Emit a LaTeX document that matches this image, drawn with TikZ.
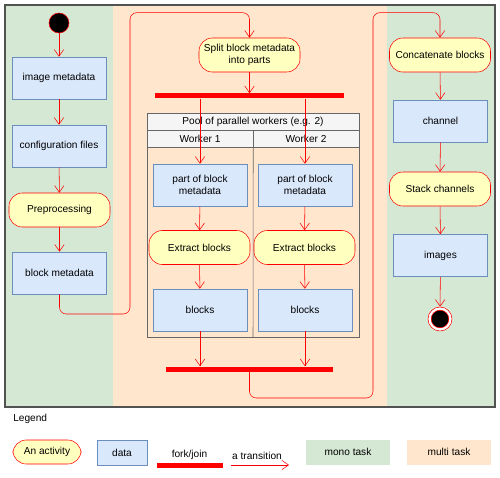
\documentclass[tikz,border=0pt]{standalone}
\usepackage{fontspec}
\setmainfont{Liberation Sans}
\usepackage{tikz}
\usetikzlibrary{arrows.meta,calc}
\definecolor{lane-green}{HTML}{D5E8D4}
\definecolor{lane-orange}{HTML}{FFE6CC}
\definecolor{data-fill}{HTML}{DAE8FC}
\definecolor{data-line}{HTML}{6C8EBF}
\definecolor{act-fill}{HTML}{FFFFC0}
\definecolor{pool-fill}{HTML}{F5F5F5}
\definecolor{pool-line}{HTML}{666666}

\begin{document}
\begin{tikzpicture}[x=0.75pt, y=-0.75pt,
    every node/.style={font=\fontsize{7.6}{9.4}\selectfont, inner sep=0pt},
    data/.style={rectangle, fill=data-fill, draw=data-line, minimum width=94*0.75pt, minimum height=42*0.75pt},
    activity/.style={rectangle, rounded corners=10pt, fill=act-fill, draw=red, minimum width=101*0.75pt, minimum height=34*0.75pt, align=center},
    bar/.style={rectangle, fill=red, minimum height=5*0.75pt},
    trans/.style={draw=red, -{Straight Barb[length=5pt, width=7pt]}},
    head/.style={rectangle, fill=pool-fill, draw=pool-line, minimum height=17*0.75pt}]
    \useasboundingbox (0,0) rectangle (500,478);
    % lanes
    \fill[lane-green] (5,5) rectangle (113,407);
    \fill[lane-orange] (113,5) rectangle (387,407);
    \fill[lane-green] (387,5) rectangle (495,407);
    \draw[pool-line!80!black, line width=1.2pt] (5,5) rectangle (495,407);

    % left lane
    \node[circle, fill=black, draw=red, minimum size=20*0.75pt] (start) at (59,23) {};
    \node[data] (imgmeta) at (59,78) {image metadata};
    \node[data] (config) at (59,146) {configuration files};
    \node[activity] (preproc) at (59.5,210) {Preprocessing};
    \node[data] (blockmeta) at (59.5,273) {block metadata};

    % middle lane
    \node[activity] (split) at (249.5,55) {Split block metadata\\into parts};
    \node[bar, minimum width=189*0.75pt] (fork) at (249.5,96) {};
    \draw[pool-line] (147,113) rectangle (359,337);
    \node[head, minimum width=212*0.75pt] (pool) at (253,121.5) {Pool of parallel workers (e.g. 2)};
    \node[head, minimum width=106*0.75pt] (worker1) at (200,138.5) {Worker 1};
    \node[head, minimum width=106*0.75pt] (worker2) at (306,138.5) {Worker 2};
    \draw[pool-line] (worker1.south east) -- (253,337);
    \node[data, align=center] (part1) at (200,185) {part of block\\metadata};
    \node[data, align=center] (part2) at (305,185) {part of block\\metadata};
    \node[activity] (extract1) at (199.5,247.5) {Extract blocks};
    \node[activity] (extract2) at (304.5,247.5) {Extract blocks};
    \node[data] (blocks1) at (200,310) {blocks};
    \node[data] (blocks2) at (305,310) {blocks};
    \node[bar, minimum width=167*0.75pt] (join) at (249.5,369) {};

    % right lane
    \node[activity] (concat) at (440,55) {Concatenate blocks};
    \node[data] (channel) at (440.5,121) {channel};
    \node[activity] (stack) at (440,189) {Stack channels};
    \node[data] (images) at (440.5,255.5) {images};
    \node[circle, fill=white, draw=red, minimum size=24*0.75pt,
        path picture={\fill[black, draw=red] (path picture bounding box.center) circle (6.6pt);}] (end) at (440,319) {};

    % transitions
    \draw[trans] (start) -- (imgmeta);
    \draw[trans] (imgmeta) -- (config);
    \draw[trans] (config) -- (preproc);
    \draw[trans] (preproc) -- (blockmeta);
    \draw[trans, rounded corners=5pt] (blockmeta.south) |- (130,314) |- ($(split.north)+(0,-25)$) -- (split.north);
    \draw[trans] (split) -- (fork);
    \draw[trans] (fork.south -| part1.north) -- (part1);
    \draw[trans] (fork.south -| part2.north) -- (part2);
    \draw[trans] (part1) -- (extract1);
    \draw[trans] (part2) -- (extract2);
    \draw[trans] (extract1) -- (blocks1);
    \draw[trans] (extract2) -- (blocks2);
    \draw[trans] (blocks1) -- (blocks1 |- join.north);
    \draw[trans] (blocks2) -- (blocks2 |- join.north);
    \draw[trans, rounded corners=5pt] (join.south) |- (373,398) |- ($(concat.north)+(0,-25)$) -- (concat.north);
    \draw[trans] (concat) -- (channel);
    \draw[trans] (channel) -- (stack);
    \draw[trans] (stack) -- (images);
    \draw[trans] (images) -- (end);

    % legend
    \node[anchor=west] (legend) at (13,419) {Legend};
    \node[activity, minimum width=68*0.75pt, minimum height=24*0.75pt] (leg-act) at (47,452) {An activity};
    \node[data, minimum width=50*0.75pt, minimum height=25*0.75pt] (leg-data) at (122,452.5) {data};
    \node[bar, minimum width=66*0.75pt] (leg-bar) at (189.5,465) {};
    \node[anchor=south] (leg-fork) at (189.5,460) {fork/join};
    \coordinate (tfrom) at (231,465);
    \coordinate (tto) at (289,465);
    \node[anchor=south] (leg-trans) at (257,460) {a transition};
    \draw[trans] (tfrom) -- (tto);
    \node[rectangle, fill=lane-green, minimum width=84*0.75pt, minimum height=25*0.75pt] (leg-mono) at (348,452) {mono task};
    \node[rectangle, fill=lane-orange, minimum width=84*0.75pt, minimum height=25*0.75pt] (leg-multi) at (449,452) {multi task};
\end{tikzpicture}
\end{document}
